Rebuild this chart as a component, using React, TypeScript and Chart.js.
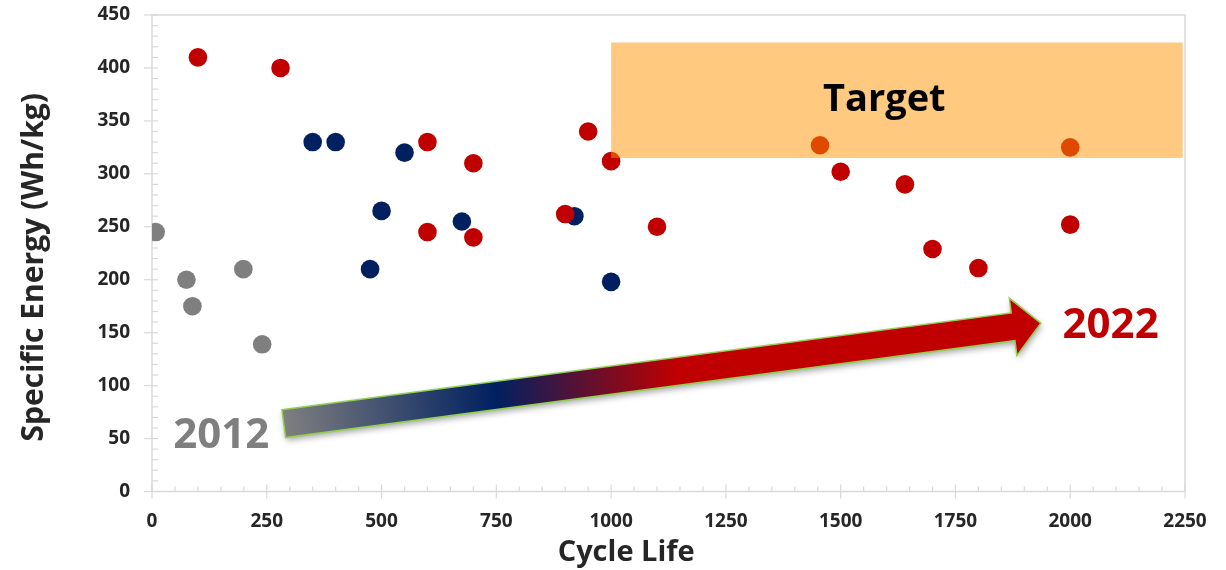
import React, { useEffect, useRef } from "react";
import { Chart, registerables } from "chart.js";

Chart.register(...registerables);

// ---- data ----
const gray2012X = [8, 75, 88, 199, 240];
const gray2012Y = [245, 200, 175, 210, 139];

const navyX = [350, 400, 550, 500, 475, 675, 920, 1000];
const navyY = [330, 330, 320, 265, 210, 255, 260, 198];

const redX = [100, 280, 600, 600, 700, 700, 900, 950, 1000, 1100, 1455, 1500, 1640, 1700, 1800, 2000, 2000];
const redY = [410, 400, 330, 245, 310, 240, 262, 340, 312, 250, 327, 302, 290, 229, 211, 325, 252];

const xMin = 0;
const xMax = 2250;
const xStep = 250;
const xMinorStep = 50;
const yMin = 0;
const yMax = 450;
const yStep = 50;
const yMinorStep = 10;

const xTitle = "Cycle Life";
const yTitle = "Specific Energy (Wh/kg)";

// target region (data units)
const targetXFrom = 1000;
const targetXTo = 2245;
const targetYFrom = 315;
const targetYTo = 424;
const targetLabel = "Target";
const targetLabelX = 1595;
const targetLabelY = 359;

// trend arrow (data units)
const arrowFromX = 287;
const arrowFromY = 64;
const arrowToX = 1936;
const arrowToY = 159;

const startLabel = "2012";
const startLabelX = 151;
const startLabelY = 41;
const endLabel = "2022";
const endLabelX = 2088;
const endLabelY = 145;

const FONT = "'Open Sans', 'DejaVu Sans', sans-serif";

const toPts = (xs: number[], ys: number[]) => xs.map((x, i) => ({ x, y: ys[i] }));

const framePlugin = {
  id: "frameAndTicks",
  beforeDatasetsDraw(chart: any) {
    const { ctx, chartArea, scales } = chart;
    const xs = scales.x;
    const ys = scales.y;
    ctx.save();
    ctx.strokeStyle = "#d9d9d9";
    ctx.lineWidth = 1.5;
    ctx.beginPath();
    ctx.moveTo(chartArea.left, chartArea.bottom);
    ctx.lineTo(chartArea.left, chartArea.top);
    ctx.lineTo(chartArea.right, chartArea.top);
    ctx.lineTo(chartArea.right, chartArea.bottom);
    ctx.lineTo(chartArea.left, chartArea.bottom);
    ctx.stroke();
    ctx.lineWidth = 1.2;
    for (let v = yMin; v <= yMax; v += yMinorStep) {
      const py = ys.getPixelForValue(v);
      const major = v % yStep === 0;
      ctx.beginPath();
      ctx.moveTo(chartArea.left - (major ? 8 : 0), py);
      ctx.lineTo(chartArea.left + 6, py);
      ctx.stroke();
    }
    for (let v = xMin; v <= xMax; v += xMinorStep) {
      const px = xs.getPixelForValue(v);
      const major = v % xStep === 0;
      ctx.beginPath();
      ctx.moveTo(px, chartArea.bottom - (major ? 7 : 5));
      ctx.lineTo(px, chartArea.bottom + (major ? 7 : 0));
      ctx.stroke();
    }
    ctx.restore();
  },
  afterDatasetsDraw(chart: any) {
    const { ctx, chartArea, scales } = chart;
    const xs = scales.x;
    const ys = scales.y;
    ctx.save();
    const bx1 = xs.getPixelForValue(targetXFrom);
    const bx2 = xs.getPixelForValue(targetXTo);
    const by1 = ys.getPixelForValue(targetYTo);
    const by2 = ys.getPixelForValue(targetYFrom);
    ctx.fillStyle = "rgba(255,148,0,0.5)";
    ctx.fillRect(bx1, by1, bx2 - bx1, by2 - by1);
    ctx.fillStyle = "#000000";
    ctx.font = `bold 38px ${FONT}`;
    ctx.textAlign = "center";
    ctx.textBaseline = "alphabetic";
    ctx.fillText(targetLabel, xs.getPixelForValue(targetLabelX), ys.getPixelForValue(targetLabelY));

    const tx = xs.getPixelForValue(arrowFromX);
    const ty = ys.getPixelForValue(arrowFromY);
    const hx = xs.getPixelForValue(arrowToX);
    const hy = ys.getPixelForValue(arrowToY);
    const dx = hx - tx;
    const dy = hy - ty;
    const len = Math.hypot(dx, dy);
    const ux = dx / len;
    const uy = dy / len;
    const nx = -uy;
    const ny = ux;
    const shaftW = 14;
    const headW = 29;
    const headL = 28;
    const bx = hx - headL * ux;
    const byy = hy - headL * uy;
    ctx.beginPath();
    ctx.moveTo(tx - shaftW * nx, ty - shaftW * ny);
    ctx.lineTo(bx - shaftW * nx, byy - shaftW * ny);
    ctx.lineTo(bx - headW * nx, byy - headW * ny);
    ctx.lineTo(hx, hy);
    ctx.lineTo(bx + headW * nx, byy + headW * ny);
    ctx.lineTo(bx + shaftW * nx, byy + shaftW * ny);
    ctx.lineTo(tx + shaftW * nx, ty + shaftW * ny);
    ctx.closePath();
    const grad = ctx.createLinearGradient(tx, ty, hx, hy);
    grad.addColorStop(0, "#7f7f7f");
    grad.addColorStop(0.28, "#002060");
    grad.addColorStop(0.52, "#c00000");
    grad.addColorStop(1, "#c00000");
    ctx.save();
    ctx.shadowColor = "rgba(0,0,0,0.35)";
    ctx.shadowBlur = 6;
    ctx.shadowOffsetX = 1;
    ctx.shadowOffsetY = 3;
    ctx.fillStyle = grad;
    ctx.fill();
    ctx.restore();
    ctx.strokeStyle = "#92d050";
    ctx.lineWidth = 1.5;
    ctx.lineJoin = "miter";
    ctx.stroke();

    ctx.font = `bold 42px ${FONT}`;
    ctx.textAlign = "center";
    ctx.textBaseline = "alphabetic";
    ctx.fillStyle = "#7f7f7f";
    ctx.fillText(startLabel, xs.getPixelForValue(startLabelX), ys.getPixelForValue(startLabelY));
    ctx.fillStyle = "#c00000";
    ctx.fillText(endLabel, xs.getPixelForValue(endLabelX), ys.getPixelForValue(endLabelY));

    ctx.fillStyle = "#262626";
    ctx.font = `bold 29px ${FONT}`;
    ctx.textAlign = "center";
    ctx.fillText(xTitle, chartArea.left + chartArea.width * 0.459, chartArea.bottom + 69);
    ctx.font = `bold 30px ${FONT}`;
    ctx.translate(43, chartArea.top + chartArea.height * 0.5 + 14);
    ctx.rotate(-Math.PI / 2);
    ctx.fillText(yTitle, 0, 0);
    ctx.restore();
  },
};

export default function App() {
  const ref = useRef<HTMLCanvasElement | null>(null);
  useEffect(() => {
    document.body.style.margin = "0";
    const canvas = ref.current;
    if (!canvas) return;
    const chart = new Chart(canvas, {
      type: "scatter",
      data: {
        datasets: [
          {
            label: "2020s",
            data: toPts(redX, redY),
            backgroundColor: "#c00000",
            borderWidth: 0,
            pointRadius: 9.3,
          },
          {
            label: "Mid",
            data: toPts(navyX, navyY),
            backgroundColor: "#002060",
            borderWidth: 0,
            pointRadius: 9.3,
          },
          {
            label: "2012",
            data: toPts(gray2012X, gray2012Y),
            backgroundColor: "#7f7f7f",
            borderWidth: 0,
            pointRadius: 9.3,
          },
        ],
      },
      options: {
        responsive: false,
        animation: false,
        devicePixelRatio: 1,
        layout: { padding: { top: 15, right: 41, left: 0, bottom: 0 } },
        plugins: {
          legend: { display: false },
          tooltip: { enabled: false },
        },
        scales: {
          x: {
            type: "linear",
            min: xMin,
            max: xMax,
            grid: { display: false, drawTicks: false },
            border: { display: false },
            ticks: {
              stepSize: xStep,
              padding: 19,
              color: "#262626",
              font: { family: FONT, weight: "bold", size: 19 },
              maxRotation: 0,
              callback: (v: any) => String(v),
            },
            afterFit: (s: any) => {
              s.height = 78.5;
              s.paddingLeft = 0;
              s.paddingRight = 0;
            },
          },
          y: {
            type: "linear",
            min: yMin,
            max: yMax,
            grid: { display: false, drawTicks: false },
            border: { display: false },
            ticks: {
              stepSize: yStep,
              padding: 22,
              color: "#262626",
              font: { family: FONT, weight: "bold", size: 19 },
              callback: (v: any) => String(v),
            },
            afterFit: (s: any) => {
              s.width = 152;
              s.paddingTop = 0;
              s.paddingBottom = 0;
            },
          },
        },
      },
      plugins: [framePlugin],
    });
    return () => chart.destroy();
  }, []);
  return (
    <div style={{ width: 1226, height: 570, background: "#ffffff" }}>
      <canvas ref={ref} width={1226} height={570} />
    </div>
  );
}
